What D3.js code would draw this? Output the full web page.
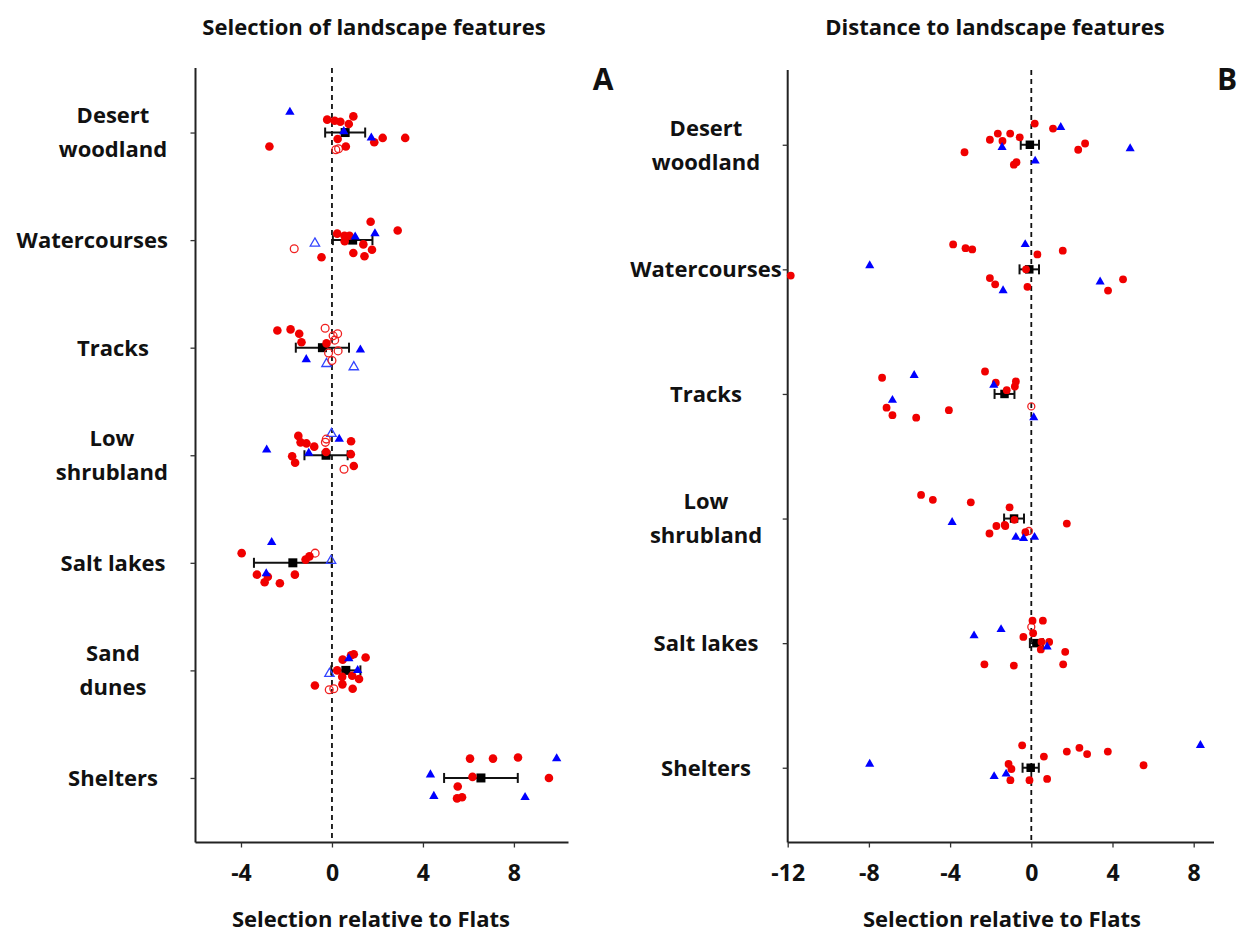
<!DOCTYPE html>
<html>
<head>
<meta charset="utf-8">
<script src="https://cdn.jsdelivr.net/npm/d3@7"></script>
<style>
  html, body { margin: 0; padding: 0; background: #fff; }
  svg text { font-family: "Open Sans", "Noto Sans", sans-serif; font-weight: 700; fill: #111; }
</style>
</head>
<body>
<svg id="chart" width="1251" height="935"></svg>
<script>
// ---------- categories ----------
const categoriesA = ["Desert woodland", "Watercourses", "Tracks", "Low shrubland", "Salt lakes", "Sand dunes", "Shelters"];
const categoriesB = ["Desert woodland", "Watercourses", "Tracks", "Low shrubland", "Salt lakes", "Shelters"];
const labelLines = {
  "Desert woodland": ["Desert", "woodland"],
  "Watercourses": ["Watercourses"],
  "Tracks": ["Tracks"],
  "Low shrubland": ["Low", "shrubland"],
  "Salt lakes": ["Salt lakes"],
  "Sand dunes": ["Sand", "dunes"],
  "Shelters": ["Shelters"]
};
const ticksA = [-4, 0, 4, 8];
const ticksB = [-12, -8, -4, 0, 4, 8];

// ---------- A: selection of landscape features ----------
// rows: [category, value, jitter (fraction of the category step)]
const redFilledA = [
  ["Desert woodland", -0.21, -0.12], ["Desert woodland", 0.12, -0.11], ["Desert woodland", 0.37, -0.10],
  ["Desert woodland", 0.74, -0.08], ["Desert woodland", 0.94, -0.15], ["Desert woodland", 2.23, 0.05],
  ["Desert woodland", 3.22, 0.05], ["Desert woodland", 1.86, 0.09], ["Desert woodland", 0.25, 0.06],
  ["Desert woodland", 0.61, 0.13], ["Desert woodland", -2.75, 0.13],
  ["Watercourses", 1.70, -0.17], ["Watercourses", 2.89, -0.09], ["Watercourses", 0.23, -0.06],
  ["Watercourses", 0.55, -0.04], ["Watercourses", 0.77, -0.04], ["Watercourses", 0.56, 0.01],
  ["Watercourses", 1.38, 0.04], ["Watercourses", 1.76, 0.09], ["Watercourses", 0.94, 0.12],
  ["Watercourses", 1.43, 0.15], ["Watercourses", -0.46, 0.16],
  ["Tracks", -2.40, -0.16], ["Tracks", -1.82, -0.17], ["Tracks", -1.44, -0.13],
  ["Tracks", -1.34, -0.05], ["Tracks", -0.24, -0.04],
  ["Low shrubland", -1.48, -0.18], ["Low shrubland", -1.38, -0.12], ["Low shrubland", -1.12, -0.11],
  ["Low shrubland", -0.78, -0.08], ["Low shrubland", 0.84, -0.13], ["Low shrubland", -0.26, -0.03],
  ["Low shrubland", 0.83, -0.01], ["Low shrubland", -1.75, 0.01], ["Low shrubland", -1.62, 0.07],
  ["Low shrubland", 0.96, 0.10],
  ["Salt lakes", -3.97, -0.09], ["Salt lakes", -1.16, -0.03], ["Salt lakes", -0.99, -0.06],
  ["Salt lakes", -3.30, 0.11], ["Salt lakes", -2.82, 0.13], ["Salt lakes", -2.96, 0.18],
  ["Salt lakes", -2.29, 0.19], ["Salt lakes", -1.63, 0.11],
  ["Sand dunes", 1.48, -0.12], ["Sand dunes", 0.96, -0.15], ["Sand dunes", 0.84, -0.14],
  ["Sand dunes", 0.47, -0.10], ["Sand dunes", 0.23, 0.00], ["Sand dunes", 0.45, 0.06],
  ["Sand dunes", 0.89, 0.05], ["Sand dunes", 1.19, 0.08], ["Sand dunes", -0.75, 0.14],
  ["Sand dunes", 0.46, 0.13], ["Sand dunes", 0.91, 0.17],
  ["Shelters", 6.07, -0.18], ["Shelters", 7.08, -0.18], ["Shelters", 8.18, -0.19],
  ["Shelters", 6.18, -0.01], ["Shelters", 9.54, 0.00], ["Shelters", 5.53, 0.08],
  ["Shelters", 5.50, 0.19], ["Shelters", 5.72, 0.18]
];
const redOpenA = [
  ["Desert woodland", 0.17, 0.16], ["Desert woodland", 0.29, 0.15],
  ["Watercourses", -1.66, 0.08],
  ["Tracks", -0.30, -0.18], ["Tracks", 0.05, -0.11], ["Tracks", 0.25, -0.13], ["Tracks", 0.12, -0.07],
  ["Tracks", 0.27, 0.03], ["Tracks", -0.15, 0.05], ["Tracks", 0.00, 0.12],
  ["Low shrubland", -0.25, -0.15], ["Low shrubland", -0.29, -0.12], ["Low shrubland", 0.53, 0.13],
  ["Salt lakes", -0.74, -0.09],
  ["Sand dunes", -0.12, 0.18], ["Sand dunes", 0.08, 0.17]
];
const blueFilledA = [
  ["Desert woodland", -1.85, -0.19], ["Desert woodland", 0.52, -0.01], ["Desert woodland", 1.73, 0.05],
  ["Watercourses", 1.89, -0.06], ["Watercourses", 1.02, -0.03],
  ["Tracks", 1.25, 0.02], ["Tracks", -1.13, 0.11],
  ["Low shrubland", 0.32, -0.15], ["Low shrubland", -2.87, -0.05], ["Low shrubland", -1.02, -0.02],
  ["Salt lakes", -2.65, -0.19], ["Salt lakes", -2.89, 0.10],
  ["Sand dunes", 0.74, -0.11], ["Sand dunes", 1.13, 0.00],
  ["Shelters", 9.88, -0.18], ["Shelters", 4.33, -0.03], ["Shelters", 4.48, 0.17], ["Shelters", 8.49, 0.18]
];
const blueOpenA = [
  ["Watercourses", -0.75, 0.03],
  ["Tracks", -0.24, 0.15], ["Tracks", 0.96, 0.18],
  ["Low shrubland", -0.02, -0.20],
  ["Salt lakes", -0.04, -0.02],
  ["Sand dunes", -0.11, 0.03]
];
const meanA = [0.58, 0.91, -0.42, -0.26, -1.72, 0.61, 6.55];
const seA   = [0.88, 0.87, 1.17, 0.95, 1.71, 0.64, 1.62];

// ---------- B: distance to landscape features ----------
const redFilledB = [
  ["Desert woodland", 0.17, -0.17], ["Desert woodland", 1.07, -0.13], ["Desert woodland", -1.65, -0.09],
  ["Desert woodland", -1.04, -0.09], ["Desert woodland", -0.57, -0.06], ["Desert woodland", -2.04, -0.04],
  ["Desert woodland", -1.42, -0.03], ["Desert woodland", 2.65, -0.01], ["Desert woodland", 2.31, 0.04],
  ["Desert woodland", -3.29, 0.06], ["Desert woodland", -0.73, 0.14], ["Desert woodland", -0.86, 0.16],
  ["Watercourses", -3.85, -0.20], ["Watercourses", -3.24, -0.17], ["Watercourses", -2.91, -0.16],
  ["Watercourses", 0.30, -0.12], ["Watercourses", 1.55, -0.15], ["Watercourses", -11.85, 0.05],
  ["Watercourses", -0.26, 0.00], ["Watercourses", -2.04, 0.07], ["Watercourses", -1.78, 0.12],
  ["Watercourses", -0.19, 0.14], ["Watercourses", 4.52, 0.08], ["Watercourses", 3.78, 0.17],
  ["Tracks", -7.35, -0.13], ["Tracks", -2.28, -0.18], ["Tracks", -1.75, -0.09],
  ["Tracks", -0.76, -0.10], ["Tracks", -0.81, -0.06], ["Tracks", -1.21, -0.03],
  ["Tracks", -7.13, 0.11], ["Tracks", -6.84, 0.17], ["Tracks", -5.67, 0.19], ["Tracks", -4.06, 0.13],
  ["Low shrubland", -5.43, -0.19], ["Low shrubland", -4.85, -0.15], ["Low shrubland", -2.98, -0.13],
  ["Low shrubland", -1.07, -0.09], ["Low shrubland", -0.83, 0.01], ["Low shrubland", -1.31, 0.05],
  ["Low shrubland", -1.28, 0.06], ["Low shrubland", -1.72, 0.06], ["Low shrubland", -2.06, 0.12],
  ["Low shrubland", -0.29, 0.11], ["Low shrubland", 1.75, 0.04],
  ["Salt lakes", 0.06, -0.18], ["Salt lakes", 0.57, -0.18], ["Salt lakes", 0.09, -0.08],
  ["Salt lakes", -0.39, -0.05], ["Salt lakes", 0.50, -0.01], ["Salt lakes", 0.88, -0.01],
  ["Salt lakes", 0.47, 0.05], ["Salt lakes", 1.67, 0.07], ["Salt lakes", -2.31, 0.17],
  ["Salt lakes", -0.86, 0.18], ["Salt lakes", 1.57, 0.17],
  ["Shelters", -0.45, -0.18], ["Shelters", 0.62, -0.09], ["Shelters", 1.75, -0.13],
  ["Shelters", 2.37, -0.16], ["Shelters", 2.75, -0.11], ["Shelters", 3.77, -0.13],
  ["Shelters", -1.12, -0.03], ["Shelters", -0.98, 0.01], ["Shelters", 5.53, -0.02],
  ["Shelters", -1.03, 0.10], ["Shelters", -0.09, 0.10], ["Shelters", 0.78, 0.09]
];
const redOpenB = [
  ["Tracks", 0.00, 0.10],
  ["Low shrubland", -0.12, 0.10],
  ["Salt lakes", 0.00, -0.13]
];
const blueFilledB = [
  ["Desert woodland", 1.45, -0.14], ["Desert woodland", -1.44, 0.02], ["Desert woodland", 4.87, 0.03],
  ["Desert woodland", 0.19, 0.13],
  ["Watercourses", -0.30, -0.20], ["Watercourses", -7.96, -0.03], ["Watercourses", -1.39, 0.17],
  ["Watercourses", 3.39, 0.10],
  ["Tracks", -5.77, -0.15], ["Tracks", -1.85, -0.07], ["Tracks", -6.84, 0.05], ["Tracks", 0.12, 0.19],
  ["Low shrubland", -3.90, 0.03], ["Low shrubland", -0.76, 0.15], ["Low shrubland", -0.38, 0.16],
  ["Low shrubland", 0.16, 0.15],
  ["Salt lakes", -2.82, -0.06], ["Salt lakes", -1.49, -0.11], ["Salt lakes", 0.78, 0.03],
  ["Shelters", 8.33, -0.18], ["Shelters", -7.96, -0.03], ["Shelters", -1.83, 0.07], ["Shelters", -1.24, 0.05]
];
const blueOpenB = [];
const meanB = [-0.07, -0.10, -1.32, -0.85, 0.25, -0.03];
const seB   = [0.45, 0.48, 0.49, 0.49, 0.32, 0.40];

// ---------- drawing ----------
const svg = d3.select("#chart");

function drawPanel(p) {
  const g = svg.append("g");
  const x = d3.scaleLinear().domain(p.domain).range(p.xRange);
  const y = d3.scalePoint().domain(p.categories).range(p.yRange).padding(p.padding);
  const step = y.step();
  const bottom = p.yRange[1];

  // reference line at zero
  g.append("line")
    .attr("x1", x(0)).attr("x2", x(0))
    .attr("y1", p.yRange[0]).attr("y2", bottom)
    .attr("stroke", "#111").attr("stroke-width", 1.8)
    .attr("stroke-dasharray", "5,4");

  // axes
  const yAxis = g.append("g").attr("transform", `translate(${p.xRange[0]},0)`)
    .call(d3.axisLeft(y).tickSize(5).tickFormat(""));
  const xAxis = g.append("g").attr("transform", `translate(0,${bottom})`)
    .call(d3.axisBottom(x).tickValues(p.ticks).tickSize(5).tickFormat(d3.format("d")));
  [yAxis, xAxis].forEach(a => {
    a.select(".domain").attr("stroke", "#222").attr("stroke-width", 2);
    a.selectAll(".tick line").attr("stroke", "#333").attr("stroke-width", 1.3);
  });
  yAxis.select(".domain").attr("d", `M0,${p.yRange[0]}V${bottom}`);
  xAxis.select(".domain").attr("d", `M${p.xRange[0]},0H${p.xRange[1]}`);
  xAxis.selectAll(".tick text")
    .attr("y", 22).attr("dy", "0.71em")
    .style("font-size", "23px").style("font-family", "'Open Sans', sans-serif")
    .style("font-weight", 700).attr("fill", "#111")
    .text(d => d < 0 ? "-" + Math.abs(d) : d);

  // category labels
  p.categories.forEach(c => {
    const lines = labelLines[c];
    const lh = 34;
    const t = g.append("text")
      .attr("text-anchor", "middle")
      .style("font-size", "22px");
    lines.forEach((ln, i) => {
      t.append("tspan")
        .attr("x", 0)
        .attr("y", y(c) + (i - (lines.length - 1) / 2) * lh)
        .attr("dy", "0.36em")
        .text(ln);
    });
    const w = t.node().getBBox().width;
    const cx = Math.min(p.labelX, p.labelRight - w / 2);
    t.selectAll("tspan").attr("x", cx);
  });

  // error bars and means
  const capH = p.capH;
  p.categories.forEach((c, i) => {
    const m = p.mean[i], s = p.se[i], cy = y(c);
    g.append("line").attr("x1", x(m - s)).attr("x2", x(m + s)).attr("y1", cy).attr("y2", cy)
      .attr("stroke", "#111").attr("stroke-width", 2);
    [m - s, m + s].forEach(v => {
      g.append("line").attr("x1", x(v)).attr("x2", x(v))
        .attr("y1", cy - capH / 2).attr("y2", cy + capH / 2)
        .attr("stroke", "#111").attr("stroke-width", 2);
    });
    g.append("path").attr("d", d3.symbol(d3.symbolSquare, p.squareSize)())
      .attr("transform", `translate(${x(m)},${cy})`).attr("fill", "#000");
  });

  const py = d => y(d[0]) + d[2] * step;

  // blue triangles
  g.selectAll(null).data(p.blueOpen).join("path")
    .attr("d", d3.symbol(d3.symbolTriangle, p.triSize)())
    .attr("transform", d => `translate(${x(d[1])},${py(d)})`)
    .attr("fill", "none").attr("stroke", "#3344ff").attr("stroke-width", 1.3);
  // red circles
  g.selectAll(null).data(p.redOpen).join("circle")
    .attr("cx", d => x(d[1])).attr("cy", py).attr("r", p.r - 0.4)
    .attr("fill", "none").attr("stroke", "#f02020").attr("stroke-width", 1.3);
  g.selectAll(null).data(p.redFilled).join("circle")
    .attr("cx", d => x(d[1])).attr("cy", py).attr("r", p.r)
    .attr("fill", "#f00000");
  g.selectAll(null).data(p.blueFilled).join("path")
    .attr("d", d3.symbol(d3.symbolTriangle, p.triSize)())
    .attr("transform", d => `translate(${x(d[1])},${py(d)})`)
    .attr("fill", "#0000ff");

  // titles
  g.append("text").attr("x", p.titleX).attr("y", 35).attr("text-anchor", "middle")
    .style("font-size", "22px").text(p.title);
  g.append("text").attr("x", p.xTitleX).attr("y", 927).attr("text-anchor", "middle")
    .style("font-size", "22px").text("Selection relative to Flats");
  g.append("text").attr("x", p.letterX).attr("y", 90).attr("text-anchor", "middle")
    .style("font-size", "30px").text(p.letter);
}

drawPanel({
  categories: categoriesA, domain: [-6, 10.4], xRange: [195.5, 568.5], yRange: [68, 842.5],
  padding: 0.6, ticks: ticksA,
  redFilled: redFilledA, redOpen: redOpenA, blueFilled: blueFilledA, blueOpen: blueOpenA,
  mean: meanA, se: seA, r: 4.3, triSize: 38, squareSize: 81, capH: 10,
  labelX: 113, labelRight: 168, title: "Selection of landscape features", titleX: 374,
  xTitleX: 371, letter: "A", letterX: 603
});
drawPanel({
  categories: categoriesB, domain: [-12, 9], xRange: [787.7, 1214], yRange: [70, 842.5],
  padding: 0.6, ticks: ticksB,
  redFilled: redFilledB, redOpen: redOpenB, blueFilled: blueFilledB, blueOpen: blueOpenB,
  mean: meanB, se: seB, r: 3.9, triSize: 36, squareSize: 72, capH: 10,
  labelX: 706, labelRight: 788, title: "Distance to landscape features", titleX: 995,
  xTitleX: 1002, letter: "B", letterX: 1227
});
</script>
</body>
</html>
